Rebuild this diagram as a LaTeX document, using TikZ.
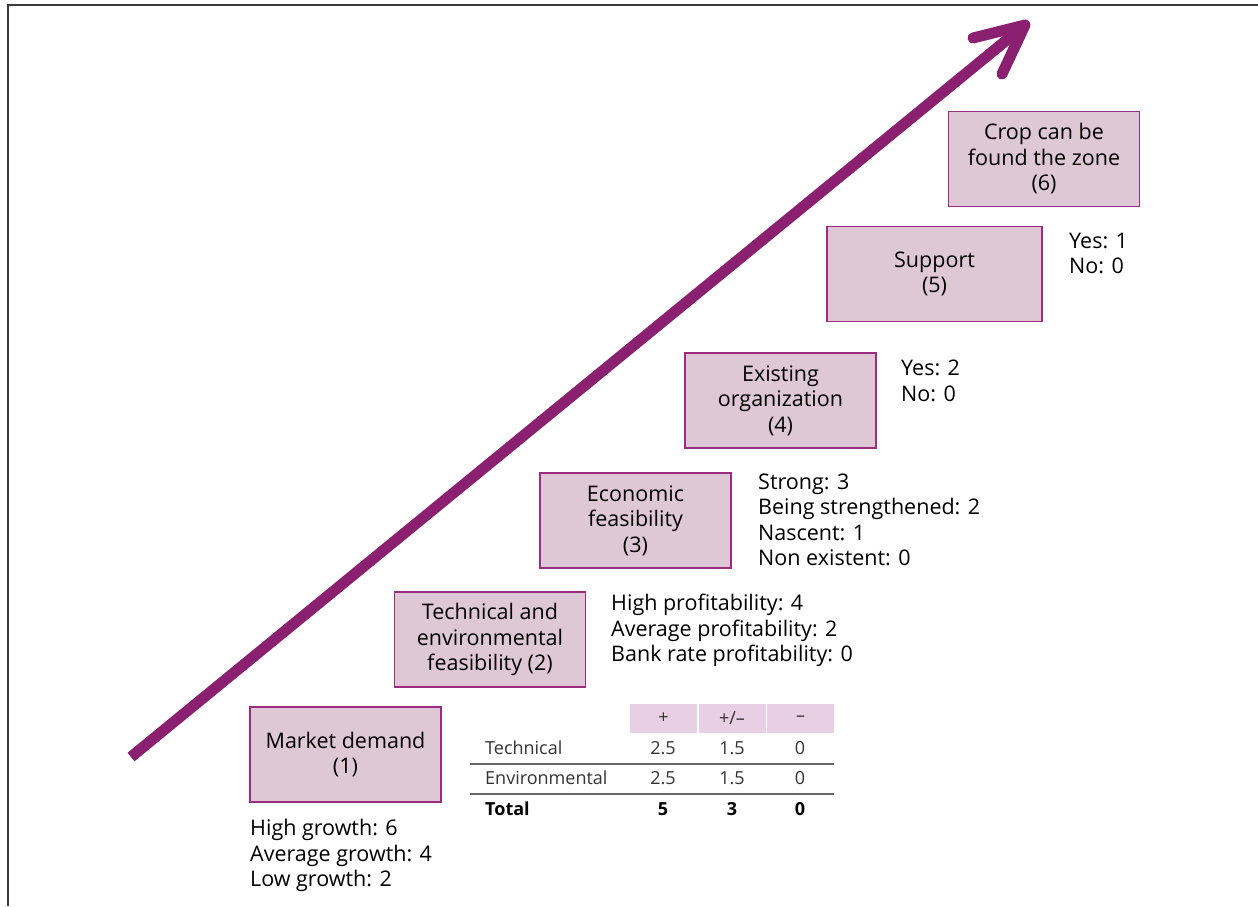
\documentclass[tikz,border=0pt]{standalone}
\usepackage{fontspec}
\setmainfont{Open Sans}
\usetikzlibrary{calc}
\definecolor{boxfill}{HTML}{DFC8D6}
\definecolor{boxline}{HTML}{9C2C80}
\definecolor{arrowc}{HTML}{8B2070}
\definecolor{headfill}{HTML}{E9CFE3}
\definecolor{framec}{HTML}{3A3A3A}
\definecolor{tabtext}{HTML}{333333}
\tikzset{
  stepbox/.style={draw=boxline, line width=1.5pt, fill=boxfill, rectangle,
    minimum width=191pt, minimum height=95pt, align=center, inner sep=2pt,
    font=\fontsize{21.5}{25.5}\selectfont},
  score/.style={anchor=west, align=left, inner sep=0pt,
    font=\fontsize{21.5}{25.5}\selectfont},
  headcell/.style={fill=headfill, minimum width=67pt, minimum height=29pt,
    inner sep=0pt, font=\fontsize{18}{20}\selectfont, text=tabtext},
  cell/.style={inner sep=0pt, font=\fontsize{18}{20}\selectfont, text=tabtext},
  boldcell/.style={inner sep=0pt, font=\fontsize{18}{20}\selectfont\bfseries},
  rule/.style={draw=gray!80!black, line width=1.2pt},
  bigarrow/.style={draw=arrowc, line width=11pt}
}
\begin{document}
\begin{tikzpicture}[x=1pt,y=-1pt]
\useasboundingbox (0,0) rectangle (1258,906);

% frame: top and left edges
\draw[framec, line width=2pt] (8,906) -- (8,5) -- (1258,5);

% rising arrow
\coordinate (tail) at (131,757);
\coordinate (tip) at (1025,25);
\coordinate (armA) at (973,38);
\coordinate (armB) at (1002,74);
\draw[bigarrow, line cap=butt] (tail) -- ($(tail)!0.995!(tip)$);
\draw[bigarrow, line cap=round, line join=round] (armA) -- (tip) -- (armB);

% steps
\node[stepbox] (s1) at (345.5,754.5) {Market demand\\(1)};
\node[stepbox] (s2) at (490,639.5) {Technical and\\environmental\\feasibility (2)};
\node[stepbox] (s3) at (635.5,520.5) {Economic\\feasibility\\(3)};
\node[stepbox] (s4) at (780.5,400.5) {Existing\\organization\\(4)};
\node[stepbox, minimum width=215pt] (s5) at (934.5,274) {Support\\(5)};
\node[stepbox] (s6) at (1044,159) {Crop can be\\found the zone\\(6)};

% scores
\node[score] (g1) at (250,855.5) {High growth: 6\\Average growth: 4\\Low growth: 2};
\node[score] (g2) at (611,630.5) {High profitability: 4\\Average profitability: 2\\Bank rate profitability: 0};
\node[score] (g3) at (758,520) {Strong: 3\\Being strengthened: 2\\Nascent: 1\\Non existent: 0};
\node[score] (g4) at (901,381) {Yes: 2\\No: 0};
\node[score] (g5) at (1069,253.5) {Yes: 1\\No: 0};

% score table
\node[headcell] (hA) at (663.5,718.5) {+};
\node[headcell] (hB) at (732,718.5) {+/\textendash};
\node[headcell] (hC) at (800.5,718.5) {\textendash};

\node[cell, anchor=west] (rT) at (485,748) {Technical};
\node[cell] at (663,748) {2.5};
\node[cell] at (732,748) {1.5};
\node[cell] at (800,748) {0};

\node[cell, anchor=west] (rE) at (485,778) {Environmental};
\node[cell] at (663,778) {2.5};
\node[cell] at (732,778) {1.5};
\node[cell] at (800,778) {0};

\node[boldcell, anchor=west] (rS) at (485,809) {Total};
\node[boldcell] at (663,809) {5};
\node[boldcell] at (732,809) {3};
\node[boldcell] at (800,809) {0};

\draw[rule] (470,764) -- (834,764);
\draw[rule] (470,794) -- (834,794);
\end{tikzpicture}
\end{document}
